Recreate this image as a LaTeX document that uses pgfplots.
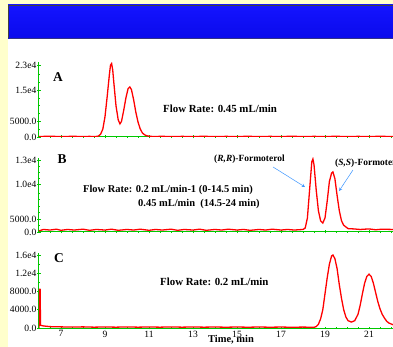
\documentclass[border=0pt]{standalone}
\usepackage{pgfplots}
\pgfplotsset{compat=1.18}
\usepackage{fontspec}
\setmainfont{Liberation Serif}
\definecolor{bgyellow}{RGB}{255,255,204}
\definecolor{axgreen}{RGB}{0,200,0}
\definecolor{arrblue}{RGB}{60,150,255}
\definecolor{hdtop}{RGB}{20,20,255}
\definecolor{hdmid}{RGB}{100,100,255}
\definecolor{hdbot}{RGB}{10,10,235}

\pgfplotsset{chrom/.style={
  scale only axis, width=354.2bp, xmin=6, xmax=22.1, ymin=0,
  axis x line=bottom, axis y line=left,
  axis line style={axgreen, line width=1bp, -},
  tick style={axgreen, line width=0.6bp},
  major tick length=3bp, minor tick length=2bp, tick align=center,
  xtick={7,9,...,21}, minor xtick={6.5,7,...,22},
  scaled y ticks=false, scaled x ticks=false,
  tick label style={font=\fontsize{9.6}{10}\selectfont, inner sep=1bp},
  /pgf/number format/assume math mode=true,
}}

\begin{document}
\begin{tikzpicture}[x=1bp,y=1bp]
\useasboundingbox (0,0) rectangle (393,347);
\fill[bgyellow] (0,0) rectangle (393,347);
\fill[white] (8,0) rectangle (393,308);
\shade[top color=hdtop, middle color=hdmid, bottom color=hdbot] (8,308) rectangle (396,342);
\draw[black!75, line width=1bp] (396,341.5) -- (8.5,341.5) -- (8.5,308.5);
\draw[black!60!blue!80, line width=1.2bp] (8.5,308.6) -- (396,308.6);

% Panel A
\begin{axis}[chrom, at={(39bp,210bp)}, anchor=south west, height=75bp, ymax=24000,
  xticklabels={},
  ytick={0,5000,15000,23000}, yticklabels={0.0,5000.0,1.5e4,2.3e4},
  minor ytick={2500,7500,10000,12500,17500,20000}]
\addplot[red, line width=1.3bp] coordinates {
(6.0,150)(6.5,250)(7.0,120)(7.5,220)(8.0,150)(8.3,200)(8.5,150)(8.6,180)(8.7,300)
(8.8,900)(8.9,2500)(9.0,6500)(9.1,13000)(9.2,20000)(9.25,23000)(9.3,23500)(9.35,21500)
(9.4,17500)(9.5,10000)(9.6,5500)(9.68,4200)(9.75,5000)(9.85,8500)(9.95,12500)(10.05,15500)
(10.13,16000)(10.2,15200)(10.3,12000)(10.4,8000)(10.5,4800)(10.6,2600)(10.7,1300)(10.8,700)
(10.9,400)(11.0,250)(11.2,150)(11.6,220)(12.0,120)(12.5,200)(13.0,150)(13.5,220)(14.0,130)
(14.5,200)(15.0,150)(15.5,220)(16.0,140)(16.5,200)(17.0,150)(17.5,230)(18.0,140)(18.5,200)
(19.0,150)(19.5,220)(20.0,140)(20.5,200)(21.0,150)(21.5,220)(22.1,150)};
\end{axis}

% Panel B
\begin{axis}[chrom, at={(39bp,115bp)}, anchor=south west, height=74bp, ymax=13180,
  xticklabels={},
  ytick={0,2300,8550,12700}, yticklabels={0.0,5000.0,1.0e4,1.3e4},
  minor ytick={1150,3450,4600,5750,6900,9600,10600,11650}]
\addplot[red, line width=1.3bp] coordinates {
(6.0,200)(6.2,450)(6.5,350)(6.8,500)(7.0,300)(7.3,450)(7.6,350)(8.0,500)(8.3,300)(8.6,450)
(9.0,350)(9.3,500)(9.6,300)(10.0,450)(10.3,350)(10.6,500)(11.0,300)(11.3,450)(11.6,350)
(12.0,500)(12.3,300)(12.6,450)(13.0,350)(13.3,500)(13.6,300)(14.0,450)(14.3,350)(14.6,500)
(15.0,350)(15.3,450)(15.6,300)(16.0,450)(16.3,350)(16.6,500)(17.0,350)(17.3,450)(17.6,350)
(18.0,450)(18.1,700)(18.2,2500)(18.3,7500)(18.4,12500)(18.45,13000)(18.5,12000)(18.6,7500)
(18.7,3800)(18.8,2000)(18.9,1600)(19.0,2500)(19.1,5500)(19.2,9000)(19.3,10500)(19.36,10700)
(19.45,9500)(19.55,6500)(19.65,3800)(19.75,2000)(19.85,1200)(19.95,900)(20.05,600)(20.3,550)
(20.6,450)(21.0,550)(21.3,400)(21.6,500)(22.1,450)};
\draw[arrblue, line width=0.5bp, -stealth] (axis cs:16.64,11576) -- (axis cs:18.09,8014);
\draw[arrblue, line width=0.5bp, -stealth] (axis cs:20.27,11042) -- (axis cs:19.64,7302);
\end{axis}

% Panel C
\begin{axis}[chrom, at={(39bp,19bp)}, anchor=south west, height=75bp, ymax=16440,
  xticklabels={7,9,11,13,15,17,19,21},
  ytick={0,4000,8000,12000,16000}, yticklabels={0.0,4000.0,8000.0,1.2e4,1.6e4},
  minor ytick={2000,6000,10000,14000}]
\addplot[red, line width=1.3bp] coordinates {
(6.0,0)(6.01,8500)(6.05,8500)(6.07,600)(6.2,450)(6.5,300)(7.0,250)(7.5,200)(8.0,250)
(8.5,180)(9.0,230)(9.5,180)(10.0,240)(10.5,180)(11.0,230)(11.5,180)(12.0,240)(12.5,180)
(13.0,230)(13.5,180)(14.0,220)(14.5,170)(15.0,220)(15.5,170)(16.0,220)(16.5,170)(17.0,210)
(17.5,160)(18.0,200)(18.5,150)(18.6,300)(18.7,800)(18.8,2000)(18.9,4000)(19.0,7500)
(19.1,11000)(19.2,14000)(19.3,15800)(19.36,16000)(19.45,15200)(19.55,13000)(19.65,9500)
(19.75,6500)(19.85,4000)(19.95,2400)(20.05,1600)(20.2,1300)(20.35,1600)(20.5,3000)
(20.6,5000)(20.7,7500)(20.8,9800)(20.9,11300)(21.0,11800)(21.1,11300)(21.2,9800)(21.3,7800)
(21.4,5800)(21.5,4200)(21.6,3000)(21.7,2200)(21.8,1500)(21.9,1100)(22.0,900)(22.1,700)};
\end{axis}

% Labels
\begin{scope}[every node/.style={inner sep=0pt}]
\node[font=\fontsize{13.5}{14}\selectfont\bfseries] at (58,270) {A};
\node[font=\fontsize{13.5}{14}\selectfont\bfseries] at (62,188) {B};
\node[font=\fontsize{13.5}{14}\selectfont\bfseries] at (59,89) {C};
\node[anchor=west, font=\fontsize{10.9}{11}\selectfont\bfseries] at (163,238) {Flow Rate: 0.45 mL/min};
\node[anchor=west, font=\fontsize{10.5}{11}\selectfont\bfseries] at (83,157) {Flow Rate: 0.2 mL/min-1 (0-14.5 min)};
\node[anchor=west, font=\fontsize{10.5}{11}\selectfont\bfseries] at (138,143) {0.45 mL/min\ \ (14.5-24 min)};
\node[anchor=west, font=\fontsize{9.5}{10}\selectfont\bfseries] at (214,188) {(\textit{R,R})-Formoterol};
\node[anchor=west, font=\fontsize{9.5}{10}\selectfont\bfseries] at (335,184) {(\textit{S,S})-Formoterol};
\node[anchor=west, font=\fontsize{10.9}{11}\selectfont\bfseries] at (160,65) {Flow Rate: 0.2 mL/min};
\node[font=\fontsize{10.5}{11}\selectfont\bfseries] at (231,7) {Time, min};
\end{scope}
\end{tikzpicture}
\end{document}
